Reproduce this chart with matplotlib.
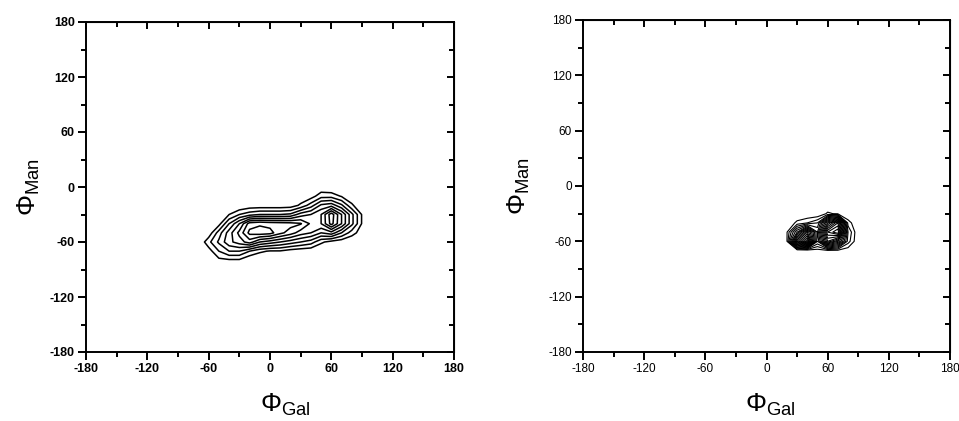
import numpy as np
import matplotlib.pyplot as plt

plt.rcParams['font.family'] = ['Liberation Sans', 'DejaVu Sans']
plt.rcParams['mathtext.fontset'] = 'custom'
plt.rcParams['mathtext.rm'] = 'Liberation Sans'
plt.rcParams['mathtext.it'] = 'Liberation Sans'
plt.rcParams['axes.unicode_minus'] = False

# сетка левой карты (шаг 10 градусов)
gal_left = np.arange(-90, 101, 10)
man_left = np.arange(0, -91, -10)
dens_left = [
    # x: -90 -80 -70 -60  -50  -40  -30  -20  -10   0    10   20   30   40   50   60   70   80   90  100
    [0, 0, 0, 0,   0,   0,   0,   0,   0,   0,   0,   0,   0,   0,   0.2, 0,   0,   0,   0,   0],    # 0
    [0, 0, 0, 0,   0,   0,   0,   0,   0,   0,   0,   0,   0.2, 0.5, 1.6, 1.6, 0.9, 0.2, 0,   0],    # -10
    [0, 0, 0, 0,   0,   0,   0,   0.3, 0.3, 0.3, 0.3, 0.4, 1.2, 2.5, 4.2, 4.6, 3.2, 1.2, 0,   0],    # -20
    [0, 0, 0, 0,   0,   1.0, 2.0, 2.6, 3.0, 3.0, 3.0, 3.2, 4.5, 5.0, 6.0, 8.6, 6.0, 3.3, 0.9, 0],    # -30
    [0, 0, 0, 0,   0.6, 3.0, 5.0, 7.5, 7.8, 7.6, 7.5, 7.4, 7.1, 5.8, 6.0, 8.4, 6.0, 3.3, 0.9, 0],    # -40
    [0, 0, 0, 0.3, 2.5, 4.5, 6.3, 8.3, 8.6, 8.4, 7.3, 6.5, 5.5, 5.0, 4.0, 4.6, 3.0, 1.5, 0.4, 0],    # -50
    [0, 0, 0, 1.7, 3.2, 4.7, 5.5, 6.5, 5.0, 4.5, 4.0, 3.5, 3.0, 2.5, 1.2, 0.6, 0.3, 0,   0,   0],    # -60
    [0, 0, 0, 0.5, 2.0, 3.0, 3.0, 2.0, 1.2, 0.9, 0.9, 0.5, 0.3, 0.2, 0,   0,   0,   0,   0,   0],    # -70
    [0, 0, 0, 0,   0.7, 0.8, 0.8, 0,   0,   0,   0,   0,   0,   0,   0,   0,   0,   0,   0,   0],    # -80
    [0, 0, 0, 0,   0,   0,   0,   0,   0,   0,   0,   0,   0,   0,   0,   0,   0,   0,   0,   0],    # -90
]

# сетка правой карты
gal_right = np.arange(0, 101, 10)
man_right = np.arange(-20, -81, -10)
dens_right = [
    # x: 0 10  20   30   40   50   60   70   80   90 100
    [0, 0, 0,   0,   0,   0,   0,   0,   0,   0, 0],   # -20
    [0, 0, 0,   0,   0,   0,   1.2, 0.8, 0,   0, 0],   # -30
    [0, 0, 0,   1.3, 2.0, 3.0, 10,  14,  1.5, 0, 0],   # -40
    [0, 0, 0.9, 6,   12,  5,   15,  17,  3,   0, 0],   # -50
    [0, 0, 0.9, 12,  17,  4,   12,  9,   2.5, 0, 0],   # -60
    [0, 0, 0,   0,   0,   0.5, 0.8, 0.7, 0.3, 0, 0],   # -70
    [0, 0, 0,   0,   0,   0,   0,   0,   0,   0, 0],   # -80
]

levels_left = [1, 2, 3, 4, 5, 6, 7, 8]
levels_right = list(range(1, 17))

ticks = [-180, -120, -60, 0, 60, 120, 180]
minor_ticks = [-150, -90, -30, 30, 90, 150]


def setup(ax, size, weight, lw):
    ax.set_xlim(-180, 180)
    ax.set_ylim(-180, 180)
    ax.set_xticks(ticks)
    ax.set_yticks(ticks)
    ax.set_xticks(minor_ticks, minor=True)
    ax.set_yticks(minor_ticks, minor=True)
    ax.tick_params(which='both', direction='out', width=lw, labelsize=size, pad=2)
    ax.tick_params(which='major', length=6)
    ax.tick_params(which='minor', length=3.5)
    for lab in ax.get_xticklabels() + ax.get_yticklabels():
        lab.set_fontweight(weight)
    for s in ax.spines.values():
        s.set_linewidth(lw)
    # верхние и правые засечки внутрь
    top = ax.secondary_xaxis('top')
    top.set_xticks(ticks)
    top.set_xticks(minor_ticks, minor=True)
    top.tick_params(which='both', direction='in', width=lw, labeltop=False)
    top.tick_params(which='major', length=5)
    top.tick_params(which='minor', length=3.5)
    right = ax.secondary_yaxis('right')
    right.set_yticks(ticks)
    right.set_yticks(minor_ticks, minor=True)
    right.tick_params(which='both', direction='in', width=lw, labelright=False)
    right.tick_params(which='major', length=5)
    right.tick_params(which='minor', length=3.5)


fig = plt.figure(figsize=(9.59, 4.21), dpi=100)

ax1 = fig.add_axes([86 / 959, 1 - 352 / 421, 368 / 959, 330 / 421])
ax1.contour(gal_left, man_left, dens_left, levels=levels_left, colors='black', linewidths=1.1)
setup(ax1, 9, 'bold', 1.4)
ax1.set_xlabel(r'$\Phi_{\mathrm{Gal}}$', fontsize=19)
ax1.set_ylabel(r'$\Phi_{\mathrm{Man}}$', fontsize=19)
ax1.xaxis.set_label_coords(0.543, -0.12)
ax1.yaxis.set_label_coords(-0.12, 0.5)

ax2 = fig.add_axes([583 / 959, 1 - 352 / 421, 367 / 959, 332 / 421])
ax2.contour(gal_right, man_right, dens_right, levels=levels_right, colors='black', linewidths=0.8)
setup(ax2, 8.5, 'normal', 1.4)
ax2.set_xlabel(r'$\Phi_{\mathrm{Gal}}$', fontsize=19)
ax2.set_ylabel(r'$\Phi_{\mathrm{Man}}$', fontsize=19)
ax2.xaxis.set_label_coords(0.51, -0.12)
ax2.yaxis.set_label_coords(-0.14, 0.5)

fig.savefig('out.png', dpi=100)
